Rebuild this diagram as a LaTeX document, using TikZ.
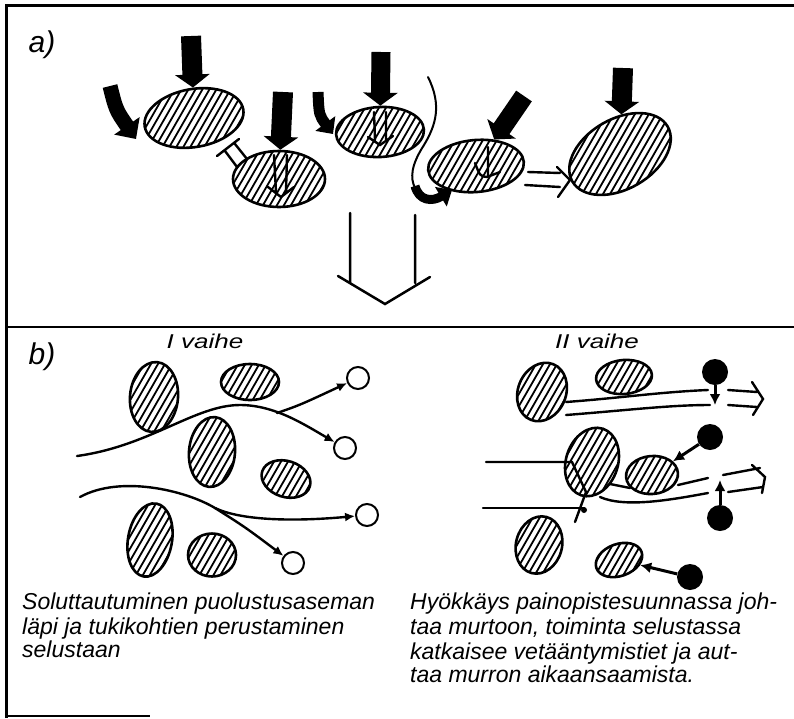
\documentclass[tikz,border=0pt]{standalone}
\usepackage{fontspec}
\setmainfont{Liberation Sans}
\usetikzlibrary{arrows.meta, shapes.geometric}

\begin{document}
\begin{tikzpicture}[x=1pt, y=-1pt,
    oval/.style={ellipse, draw, line width=2.6pt, inner sep=0pt,
        path picture={\pgftransformresetnontranslations
            \foreach \i in {-120,-113,...,120}
                \draw[line width=1.8pt] (\i pt-50pt,-87pt) -- (\i pt+50pt,87pt);}},
    ring/.style={circle, draw, line width=2pt, minimum size=22pt, inner sep=0pt},
    blob/.style={circle, fill=black, minimum size=26pt, inner sep=0pt},
    blk/.style={line width=#1, -{Triangle[width=34pt, length=13pt]}},
    pen/.style={line width=2.4pt, line cap=round},
    penarr/.style={pen, -{Latex[length=10pt, width=9pt]}},
    dotarr/.style={line width=3pt, -{Latex[length=11pt, width=11pt]}},
    capt/.style={anchor=base west, inner sep=0pt, font=\fontsize{23}{27}\selectfont\itshape},
    every node/.style={font=\itshape}
]
\useasboundingbox (0,0) rectangle (794,718);

% frame
\draw[line width=3pt] (6,718) -- (6,5) -- (794,5);
\draw[line width=2.5pt] (6,327) -- (794,327);
\draw[line width=2pt] (6,716) -- (150,716);

\node[font=\fontsize{30}{30}\selectfont\itshape] (la) at (42,45) {a)};
\node[font=\fontsize{30}{30}\selectfont\itshape] (lb) at (42,357) {b)};

% a) groups
\node[oval, minimum width=100pt, minimum height=58pt, rotate=10] (e1) at (194,118) {};
\node[oval, minimum width=92pt, minimum height=56pt] (e2) at (279,179) {};
\node[oval, minimum width=88pt, minimum height=50pt, rotate=3] (e3) at (380,132) {};
\node[oval, minimum width=96pt, minimum height=52pt, rotate=5] (e4) at (476,166) {};
\node[oval, minimum width=110pt, minimum height=70pt, rotate=30] (e5) at (620,154) {};

\draw[blk=20pt] (191,36) -- (e1);
\draw[blk=20pt] (283,92) -- (e2);
\draw[blk=19pt] (381,52) -- (e3);
\draw[blk=19pt] (524,96) -- (e4);
\draw[blk=20pt] (623,68) -- (e5);

\draw[line width=15pt, -{Triangle[width=30pt, length=16pt]}] (110,86) .. controls (116,110) .. (136,139);
\draw[line width=11pt, -{Triangle[width=24pt, length=13pt]}] (318,92) .. controls (319,115) .. (333,134);

% flank
\draw[pen, line width=2pt] (428,77) .. controls (442,105) and (436,125) .. (424,145) .. controls (411,165) and (410,178) .. (415,188);
\draw[line width=9pt, -{Triangle[width=22pt, length=13pt]}] (415,186) .. controls (419,201) and (432,202) .. (452,190);

% inner arrows
\draw[pen] (274,155) -- (276,192) (287,155) -- (286,192) (268,187) -- (281,197) -- (294,187);
\draw[pen] (374,112) -- (375,140) (386,112) -- (386,140) (368,137) -- (380,145) -- (393,136);
\draw[pen] (488,147) -- (488,175) (475,163) .. controls (480,176) .. (487,177) -- (500,172);

% hollow arrows
\draw[pen] (237,167) -- (225,151) (247,159) -- (235,144) (217,156) -- (239,139);
\draw[pen] (528,172) -- (560,173) (525,185) -- (560,187) (557,167) -- (570,180) -- (558,197);
\draw[pen, line width=2.5pt] (350,213) -- (350,282) (415,215) -- (415,283) (338,276) -- (385,304) -- (430,277);

% b) I vaihe
\node[font=\fontsize{20}{24}\selectfont\itshape] (p1) at (205,341) {\scalebox{1.3}[1]{I vaihe}};
\node[oval, minimum width=48pt, minimum height=70pt, rotate=-5] (l1) at (154,397) {};
\node[oval, minimum width=58pt, minimum height=36pt] (l2) at (250,382) {};
\node[oval, minimum width=46pt, minimum height=70pt, rotate=-5] (l3) at (212,452) {};
\node[oval, minimum width=50pt, minimum height=36pt, rotate=-18] (l4) at (286,479) {};
\node[oval, minimum width=44pt, minimum height=74pt, rotate=-10] (l5) at (150,540) {};
\node[oval, minimum width=48pt, minimum height=43pt] (l6) at (212,555) {};

\node[ring] (c1) at (358,378) {};
\node[ring] (c2) at (345,448) {};
\node[ring] (c3) at (367,515) {};
\node[ring] (c4) at (293,563) {};

\coordinate (u0) at (77,456);
\coordinate (u1) at (277,413);
\coordinate (w0) at (80,497);
\coordinate (w1) at (215,508);
\draw[penarr] (u0) .. controls (150,446) and (195,405) .. (240,405) .. controls (275,405) and (305,425) .. (c2);
\draw[penarr] (u1) .. controls (300,405) .. (c1);
\draw[penarr] (w0) .. controls (120,475) and (185,490) .. (w1) .. controls (240,520) and (290,522) .. (c3);
\draw[penarr] (w1) .. controls (245,527) .. (c4);

% b) II vaihe
\node[font=\fontsize{20}{24}\selectfont\itshape] (p2) at (597,341) {\scalebox{1.3}[1]{II vaihe}};
\node[oval, minimum width=48pt, minimum height=60pt, rotate=-22] (r1) at (542,392) {};
\node[oval, minimum width=56pt, minimum height=34pt, rotate=5] (r2) at (624,377) {};
\node[oval, minimum width=52pt, minimum height=70pt, rotate=-18] (r3) at (592,462) {};
\node[oval, minimum width=52pt, minimum height=38pt, rotate=5] (r4) at (652,475) {};
\node[oval, minimum width=46pt, minimum height=58pt, rotate=-15] (r5) at (539,545) {};
\node[oval, minimum width=48pt, minimum height=32pt, rotate=20] (r6) at (619,560) {};

\node[blob] (d1) at (715,372) {};
\node[blob] (d2) at (710,437) {};
\node[blob] (d3) at (720,518) {};
\node[blob] (d4) at (690,577) {};

% breakthrough lanes
\draw[pen] (566,402) .. controls (620,398) and (660,392) .. (708,390);
\draw[pen] (566,415) .. controls (630,410) and (670,405) .. (710,405);
\draw[pen] (728,390) -- (757,392) (728,405) -- (757,407) (752,382) -- (763,399) -- (753,415);
\draw[pen] (486,462) -- (572,462) -- (586,492) -- (575,522);
\draw[pen] (483,508) -- (584,508);
\fill (584,510) circle (3pt);
\draw[pen] (610,484) -- (630,488);
\draw[pen] (678,485) -- (708,478);
\draw[pen] (600,497) .. controls (625,508) and (670,500) .. (708,493);
\draw[pen] (723,475) -- (760,468) (728,492) -- (763,487) (752,465) -- (765,477) -- (762,493);

\coordinate (k1) at (715,405);
\coordinate (k3) at (720,480);
\draw[dotarr] (d1) -- (k1);
\draw[dotarr] (d2) -- (r4);
\draw[dotarr] (d3) -- (k3);
\draw[dotarr] (d4) -- (r6);

% captions
\node[capt] (t1) at (22,609) {Soluttautuminen puolustusaseman};
\node[capt] (t2) at (22,634) {läpi ja tukikohtien perustaminen};
\node[capt] (t3) at (22,657) {selustaan};
\node[capt] (t4) at (410,609) {Hyökkäys painopistesuunnassa joh-};
\node[capt] (t5) at (410,634) {taa murtoon, toiminta selustassa};
\node[capt] (t6) at (410,659) {katkaisee vetääntymistiet ja aut-};
\node[capt] (t7) at (410,682) {taa murron aikaansaamista.};

\end{tikzpicture}
\end{document}
